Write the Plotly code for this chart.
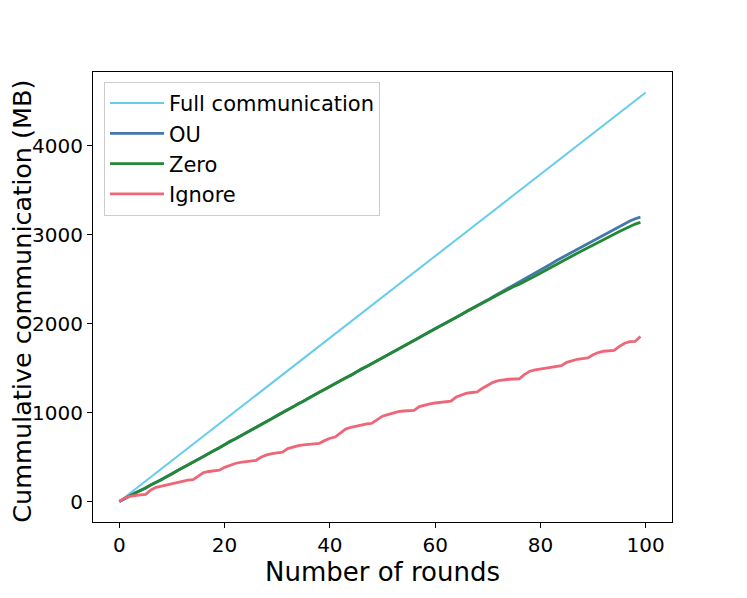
import plotly.graph_objects as go

rounds_full = [0, 10, 20, 30, 40, 50, 60, 70, 80, 90, 100]
full_comm = [0, 460, 920, 1380, 1840, 2300, 2760, 3220, 3680, 4140, 4600]

rounds = list(range(0, 100))

ou = [0, 35, 65, 98, 125, 150, 188, 215, 245, 282,
      315, 343, 380, 412, 438, 475, 508, 538, 575, 602,
      640, 678, 703, 735, 772, 808, 838, 870, 898, 935,
      970, 1000, 1028, 1065, 1102, 1128, 1165, 1198, 1222, 1260,
      1295, 1322, 1360, 1392, 1418, 1455, 1492, 1518, 1550, 1588,
      1618, 1648, 1685, 1718, 1742, 1780, 1815, 1845, 1880, 1908,
      1945, 1978, 2008, 2040, 2072, 2103, 2140, 2170, 2205, 2232,
      2268, 2302, 2335, 2370, 2408, 2440, 2472, 2505, 2542, 2572,
      2605, 2640, 2672, 2708, 2740, 2770, 2808, 2835, 2865, 2900,
      2930, 2962, 2998, 3028, 3060, 3095, 3125, 3155, 3180, 3199]

zero = [0, 35, 63, 92, 122, 152, 183, 213, 248, 277,
        310, 346, 376, 408, 442, 472, 505, 540, 572, 605,
        638, 670, 706, 735, 768, 800, 835, 868, 900, 932,
        965, 998, 1032, 1063, 1097, 1132, 1163, 1195, 1230, 1260,
        1292, 1325, 1358, 1390, 1422, 1455, 1487, 1520, 1552, 1584,
        1616, 1650, 1682, 1715, 1747, 1778, 1810, 1843, 1875, 1908,
        1940, 1972, 2005, 2037, 2070, 2103, 2136, 2168, 2200, 2232,
        2263, 2294, 2325, 2358, 2393, 2420, 2444, 2470, 2504, 2537,
        2570, 2602, 2632, 2666, 2698, 2730, 2763, 2793, 2823, 2852,
        2882, 2912, 2943, 2973, 3005, 3037, 3067, 3097, 3120, 3140]

ignore = [0, 38, 58, 70, 76, 80, 130, 160, 175, 188,
          200, 215, 228, 240, 247, 285, 325, 338, 348, 353,
          385, 410, 428, 440, 450, 458, 464, 500, 525, 540,
          548, 555, 595, 615, 628, 638, 645, 650, 655, 685,
          712, 725, 775, 815, 835, 850, 862, 872, 880, 925,
          960, 977, 995, 1010, 1018, 1022, 1026, 1068, 1085, 1098,
          1108, 1116, 1124, 1130, 1175, 1200, 1218, 1226, 1232, 1275,
          1310, 1340, 1360, 1370, 1375, 1378, 1380, 1430, 1465, 1480,
          1490, 1500, 1510, 1520, 1528, 1565, 1585, 1600, 1608, 1614,
          1650, 1675, 1690, 1695, 1700, 1745, 1780, 1798, 1800, 1855]

x_ticks = [0, 20, 40, 60, 80, 100]
y_ticks = [0, 1000, 2000, 3000, 4000]

font_family = "DejaVu Sans, sans-serif"

fig = go.Figure()
fig.add_trace(go.Scatter(x=rounds_full, y=full_comm, mode="lines", name="Full communication",
                         line=dict(color="#66CCEE", width=2), legendgroup="a"))
fig.add_trace(go.Scatter(x=rounds, y=ou, mode="lines", name="OU",
                         line=dict(color="#4477AA", width=2.8), legendgroup="b"))
fig.add_trace(go.Scatter(x=rounds, y=zero, mode="lines", name="Zero",
                         line=dict(color="#228833", width=2.8), legendgroup="c"))
fig.add_trace(go.Scatter(x=rounds, y=ignore, mode="lines", name="Ignore",
                         line=dict(color="#EE6677", width=2.8), legendgroup="d"))

axis_common = dict(showline=True, linecolor="black", linewidth=1, mirror=True,
                   ticks="outside", ticklen=5, tickwidth=1, tickcolor="black",
                   showgrid=False, zeroline=False, automargin=False,
                   tickfont=dict(family=font_family, size=20, color="black"))

fig.update_layout(
    width=747, height=598,
    margin=dict(l=85, r=83, t=64, b=84),
    paper_bgcolor="white", plot_bgcolor="white",
    font=dict(family=font_family, color="black"),
    xaxis=dict(range=[-5, 105], tickvals=x_ticks,
               title=dict(text="Number of rounds", font=dict(size=26), standoff=1),
               **axis_common),
    yaxis=dict(range=[-230, 4830], tickvals=y_ticks, **axis_common),
    legend=dict(x=0.019, y=0.978, xanchor="left", yanchor="top",
                bgcolor="rgba(255,255,255,0.8)", bordercolor="#cccccc", borderwidth=1,
                font=dict(family=font_family, size=21, color="black"),
                tracegroupgap=0, itemwidth=54),
    annotations=[dict(text="Cummulative communication (MB)", textangle=-90,
                      xref="paper", yref="paper", x=-0.124, y=0.49,
                      xanchor="center", yanchor="middle", showarrow=False,
                      font=dict(family=font_family, size=25.5, color="black"))],
)

fig.write_html("out.html")
